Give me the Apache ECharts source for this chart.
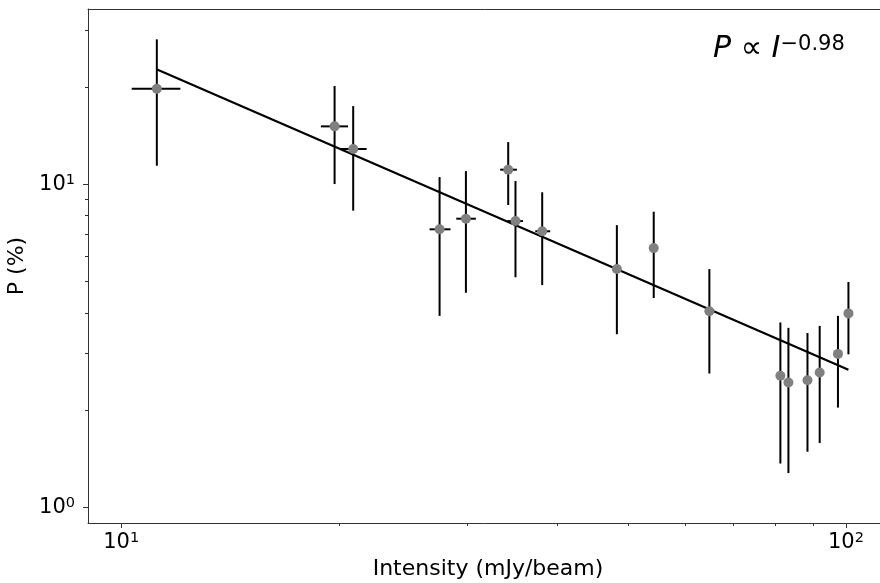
<!DOCTYPE html>
<html>
<head>
<meta charset="utf-8">
<title>P vs Intensity</title>
<script src="https://cdn.jsdelivr.net/npm/echarts@6/dist/echarts.min.js"></script>
<style>
  html, body { margin: 0; padding: 0; background: #fff; }
  #chart { width: 880px; height: 583px; }
</style>
</head>
<body>
<div id="chart"></div>
<script>
// measured points (x = intensity in mJy/beam, y = polarisation fraction in %)
const intensity = [11.2, 19.7, 20.9, 27.5, 29.9, 34.2, 35.0, 38.1, 48.3, 54.3, 64.8, 81.2, 83.3, 88.5, 92.0, 97.5, 100.8];
const intensityLo = [10.34, 18.86, 20.1, 26.64, 29.0, 33.34, 34.12, 37.27, 48.3, 54.3, 64.8, 81.2, 83.3, 88.5, 92.0, 97.5, 100.8];
const intensityHi = [12.07, 20.56, 21.81, 28.47, 30.86, 35.16, 35.84, 39.08, 48.3, 54.3, 64.8, 81.2, 83.3, 88.5, 92.0, 97.5, 100.8];
const pol = [19.75, 15.11, 12.86, 7.26, 7.83, 11.1, 7.7, 7.16, 5.47, 6.35, 4.05, 2.56, 2.44, 2.48, 2.62, 2.99, 3.99];
const polLo = [11.42, 10.02, 8.29, 3.92, 4.62, 8.63, 5.16, 4.88, 3.44, 4.45, 2.6, 1.37, 1.28, 1.49, 1.585, 2.04, 2.98];
const polHi = [28.08, 20.14, 17.46, 10.53, 10.99, 13.51, 10.24, 9.45, 7.48, 8.23, 5.47, 3.74, 3.6, 3.47, 3.65, 3.92, 4.99];

// power-law fit end points
const fitX = [11.21, 100.8];
const fitY = [22.67, 2.67];

// ticks
const xMajor = [10, 100];
const xMinor = [20, 30, 40, 50, 60, 70, 80, 90];
const yMajor = [1, 10];
const yMinor = [2, 3, 4, 5, 6, 7, 8, 9, 20, 30];

const FONT = 'DejaVu Sans';
const AXIS_COLOR = '#333';

const chart = echarts.init(document.getElementById('chart'));

const powLabel = v => '{b|10}{s|' + Math.round(Math.log10(v)) + '}';
const labelRich = {
  b: { fontSize: 21, fontFamily: FONT, color: '#000', lineHeight: 24 },
  s: { fontSize: 14.5, fontFamily: FONT, color: '#000', lineHeight: 15, verticalAlign: 'top' }
};

const xBase = {
  type: 'log',
  gridIndex: 0,
  min: 9,
  max: 114.3,
  splitLine: { show: false },
  minorTick: { show: false }
};
const yBase = {
  type: 'log',
  gridIndex: 0,
  min: 0.897,
  max: 34.85,
  splitLine: { show: false },
  minorTick: { show: false }
};
const lineStyle = { color: AXIS_COLOR, width: 1 };

chart.setOption({
  animation: false,
  grid: {
    left: 88,
    top: 9,
    right: -8,
    bottom: 60,
    outerBoundsMode: 'none',
    containLabel: false,
    show: false
  },
  xAxis: [
    {
      ...xBase,
      position: 'bottom',
      name: 'Intensity (mJy/beam)',
      nameLocation: 'middle',
      nameGap: 32,
      nameTextStyle: { fontSize: 22, fontFamily: FONT, color: '#000' },
      axisLine: { show: true, onZero: false, lineStyle },
      axisTick: { show: true, length: 5, customValues: xMajor, lineStyle },
      axisLabel: { customValues: xMajor, margin: 8, formatter: powLabel, rich: labelRich }
    },
    {
      ...xBase,
      position: 'bottom',
      axisLine: { show: false, onZero: false },
      axisTick: { show: true, length: 3, customValues: xMinor, lineStyle },
      axisLabel: { show: false }
    },
    {
      // top spine
      ...xBase,
      position: 'top',
      axisLine: { show: true, onZero: false, lineStyle },
      axisTick: { show: false },
      axisLabel: { show: false }
    }
  ],
  yAxis: [
    {
      ...yBase,
      position: 'left',
      name: 'P (%)',
      nameLocation: 'middle',
      nameGap: 54,
      nameTextStyle: { fontSize: 22, fontFamily: FONT, color: '#000' },
      axisLine: { show: true, onZero: false, lineStyle },
      axisTick: { show: true, length: 5, customValues: yMajor, lineStyle },
      axisLabel: { customValues: yMajor, margin: 13, formatter: powLabel, rich: labelRich }
    },
    {
      ...yBase,
      position: 'left',
      axisLine: { show: false, onZero: false },
      axisTick: { show: true, length: 3, customValues: yMinor, lineStyle },
      axisLabel: { show: false }
    }
  ],
  series: [
    {
      type: 'line',
      data: fitX.map((x, i) => [x, fitY[i]]),
      showSymbol: false,
      lineStyle: { color: '#000', width: 2.2 },
      z: 1
    },
    {
      type: 'custom',
      data: intensity.map((x, i) => [x, pol[i], intensityLo[i], intensityHi[i], polLo[i], polHi[i]]),
      encode: { x: 0, y: 1 },
      z: 2,
      renderItem(params, api) {
        const x = api.value(0), y = api.value(1);
        const left = api.coord([api.value(2), y]);
        const right = api.coord([api.value(3), y]);
        const bottom = api.coord([x, api.value(4)]);
        const top = api.coord([x, api.value(5)]);
        const style = { stroke: '#000', lineWidth: 2 };
        return {
          type: 'group',
          children: [
            { type: 'line', shape: { x1: bottom[0], y1: bottom[1], x2: top[0], y2: top[1] }, style },
            { type: 'line', shape: { x1: left[0], y1: left[1], x2: right[0], y2: right[1] }, style }
          ]
        };
      }
    },
    {
      type: 'scatter',
      data: intensity.map((x, i) => [x, pol[i]]),
      symbolSize: 10,
      itemStyle: { color: '#808080', opacity: 1 },
      z: 3
    }
  ],
  graphic: [
    {
      type: 'text',
      left: 713,
      top: 34,
      style: {
        text: '{i|P}{n| ∝ }{i|I}{s|−0.98}',
        rich: {
          i: { fontSize: 30, fontFamily: FONT, fontStyle: 'italic', color: '#000', lineHeight: 30 },
          n: { fontSize: 30, fontFamily: FONT, color: '#000', lineHeight: 30 },
          s: { fontSize: 21, fontFamily: FONT, color: '#000', lineHeight: 13, verticalAlign: 'top' }
        }
      }
    }
  ]
});
</script>
</body>
</html>
